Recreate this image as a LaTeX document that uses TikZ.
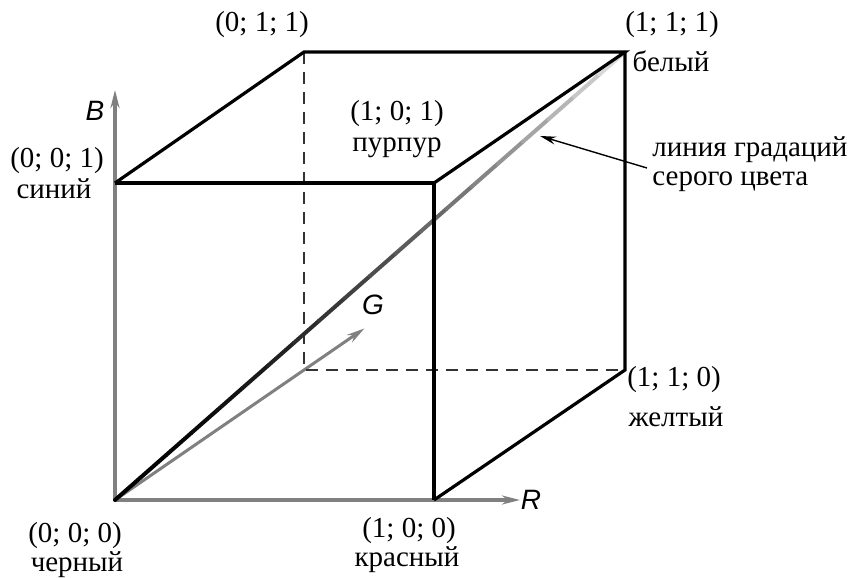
\documentclass[tikz,border=0pt]{standalone}
\usepackage{fontspec}
\setmainfont{Liberation Serif}
\newfontfamily\axisfont{Liberation Sans}
\usetikzlibrary{arrows.meta, calc}

\tikzset{
  edge/.style={line width=1.6pt, black},
  hidden/.style={line width=1pt, black!80, dash pattern=on 6pt off 4pt},
  axis/.style={line width=2pt, black!50, -{Stealth[length=9pt,width=4.5pt]}},
  lbl/.style={font=\fontsize{14.5}{17}\selectfont, inner sep=0pt, anchor=base},
  axlbl/.style={font=\fontsize{14}{16}\selectfont\axisfont\itshape, inner sep=0pt},
}

\begin{document}
\begin{tikzpicture}[x=0.5pt,y=-0.5pt]
\useasboundingbox (0,0) rectangle (868,578);
% corners of the cube
\coordinate (k) at (115,500);  % black
\coordinate (r) at (434,500);  % red
\coordinate (b) at (115,183);  % blue
\coordinate (m) at (434,183);  % magenta
\coordinate (g) at (304,370);  % green (hidden)
\coordinate (y) at (625,370);  % yellow
\coordinate (c) at (304,52);   % cyan
\coordinate (w) at (625,52);   % white
% axis ends
\coordinate (Rend) at (520,500);
\coordinate (Bend) at (115,90);
\coordinate (Gend) at ($(k)!1.32!(g)$);

% axes
\draw[axis] (k) -- (Rend);
\draw[axis] (k) -- (Bend);
\draw[axis, line width=1.5pt] (k) -- (Gend);

% hidden edges
\draw[hidden] (c) -- (g) -- (y);

% grey scale diagonal
\foreach \i in {0,...,19} {
  \pgfmathsetmacro\shade{100-85*(\i/19)^1.6}
  \draw[line width=2pt, line cap=round, black!\shade]
    ($(k)!\i/20!(w)$) -- ($(k)!\i/20+0.05!(w)$);
}

% visible edges
\draw[edge] (b) -- (m) -- (r);
\draw[edge] (b) -- (c) -- (w) -- (m);
\draw[edge] (w) -- (y) -- (r);

% pointer to the diagonal
\coordinate (ptr) at (540,136);
\node[lbl, anchor=base west] (grey1) at (652,156) {линия градаций};
\node[lbl, anchor=base west] (grey2) at (652,185) {серого цвета};
\draw[line width=0.7pt, -{Stealth[length=8pt,width=4pt]}] (647,168) -- (ptr);

% axis names
\node[axlbl] (Rname) at (531,500) {R};
\node[axlbl] (Bname) at (95,111) {B};
\node[axlbl] (Gname) at (373,305) {G};

% corner labels
\node[lbl] (kc) at (75,542) {(0; 0; 0)};
\node[lbl] (kn) at (77,571) {черный};
\node[lbl] (rc) at (409,537) {(1; 0; 0)};
\node[lbl] (rn) at (407,566) {красный};
\node[lbl] (bc) at (57,167) {(0; 0; 1)};
\node[lbl] (bn) at (54,198) {синий};
\node[lbl] (mc) at (397,120) {(1; 0; 1)};
\node[lbl] (mn) at (397,151) {пурпур};
\node[lbl] (cc) at (262,32) {(0; 1; 1)};
\node[lbl] (wc) at (672,32) {(1; 1; 1)};
\node[lbl] (wn) at (671,71) {белый};
\node[lbl] (yc) at (674,386) {(1; 1; 0)};
\node[lbl] (yn) at (676,426) {желтый};
\end{tikzpicture}
\end{document}
